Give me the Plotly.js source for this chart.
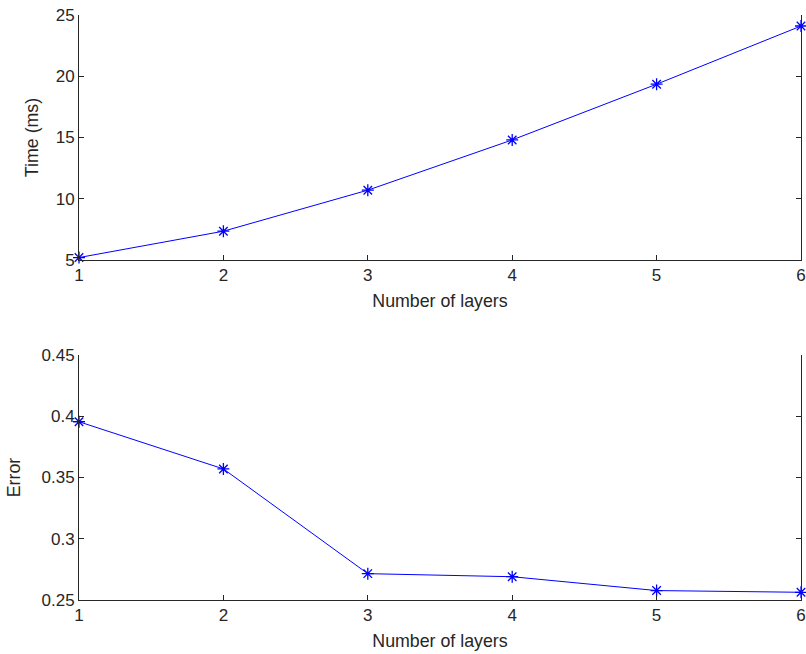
<!DOCTYPE html>
<html>
<head>
<meta charset="utf-8">
<script src="https://cdn.plot.ly/plotly-3.0.1.min.js"></script>
<style>html,body{margin:0;padding:0;background:#fff;}#chart{width:806px;height:654px;}</style>
</head>
<body>
<div id="chart"></div>
<script>
const layers = [1, 2, 3, 4, 5, 6];
const timeMs = [5.2, 7.35, 10.7, 14.8, 19.35, 24.1];
const errorVals = [0.3955, 0.357, 0.2715, 0.269, 0.2577, 0.2563];
const xTickVals = [1, 2, 3, 4, 5, 6];
const xTickText = ['1', '2', '3', '4', '5', '6'];
const timeTickVals = [5, 10, 15, 20, 25];
const timeTickText = ['5', '10', '15', '20', '25'];
const errTickVals = [0.25, 0.3, 0.35, 0.4, 0.45];
const errTickText = ['0.25', '0.3', '0.35', '0.4', '0.45'];
const topMinorTicks = [1, 1.5, 2, 2.5, 3, 3.5, 4, 4.5, 5, 5.5, 6];

const blue = 'rgb(0,0,255)';
const axCol = '#262626';
const fnt = {family: 'Liberation Sans, Arial, sans-serif', size: 17, color: '#262626'};
const tfnt = {family: 'Liberation Sans, Arial, sans-serif', size: 17.8, color: '#262626'};

function series(x, y, xa, ya) {
  return {
    x: x, y: y, xaxis: xa, yaxis: ya, type: 'scatter', mode: 'lines+markers',
    line: {color: blue, width: 1},
    marker: {symbol: 'asterisk-open', size: 10, color: blue, line: {color: blue, width: 1.3}},
    cliponaxis: false, showlegend: false, hoverinfo: 'x+y'
  };
}

const data = [
  series(layers, timeMs, 'x', 'y'),
  series(layers, errorVals, 'x2', 'y2')
];

function xAx(anchor) {
  return {
    domain: [0, 1], anchor: anchor, range: [1, 6], tickmode: 'array',
    tickvals: xTickVals, ticktext: xTickText, ticks: 'inside', ticklen: 5,
    tickcolor: axCol, tickwidth: 1, showline: true, linecolor: axCol, linewidth: 1,
    showgrid: false, zeroline: false, tickfont: fnt,
    title: {text: 'Number of layers', font: tfnt, standoff: 10}
  };
}
function topAx(ov, anchor) {
  return {
    overlaying: ov, anchor: anchor, side: 'top', range: [1, 6], tickmode: 'array',
    tickvals: topMinorTicks, ticks: 'inside', ticklen: 5, tickcolor: axCol,
    showticklabels: false, showline: true, linecolor: axCol, linewidth: 1,
    showgrid: false, zeroline: false
  };
}
function yAx(anchor, dom, range, tv, tt, title, so) {
  return {
    domain: dom, anchor: anchor, range: range, tickmode: 'array',
    tickvals: tv, ticktext: tt, ticks: 'inside', ticklen: 5, tickcolor: axCol,
    showline: true, linecolor: axCol, linewidth: 1, mirror: 'ticks',
    showgrid: false, zeroline: false, tickfont: fnt,
    title: {text: title, font: tfnt, standoff: so}
  };
}

const layout = {
  width: 806, height: 654,
  margin: {l: 79, r: 5, t: 15, b: 54},
  paper_bgcolor: '#ffffff', plot_bgcolor: '#ffffff',
  font: fnt,
  xaxis: xAx('y'),
  xaxis2: xAx('y2'),
  xaxis3: topAx('x', 'y'),
  xaxis4: topAx('x2', 'y2'),
  yaxis: yAx('x', [0.5812, 1], [5, 25], timeTickVals, timeTickText, 'Time (ms)', 12),
  yaxis2: yAx('x2', [0, 0.4188], [0.25, 0.45], errTickVals, errTickText, 'Error', 16)
};

Plotly.newPlot('chart', data, layout, {displayModeBar: false, staticPlot: true});
</script>
</body>
</html>
